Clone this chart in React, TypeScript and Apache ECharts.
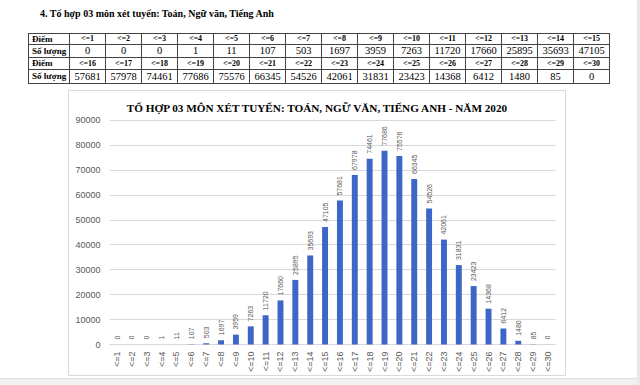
import React, { useEffect, useRef } from "react";
import * as echarts from "echarts";

const heading = "4. Tổ hợp 03 môn xét tuyển: Toán, Ngữ văn, Tiếng Anh";
const chartTitle = "TỔ HỢP 03 MÔN XÉT TUYỂN: TOÁN, NGỮ VĂN, TIẾNG ANH - NĂM 2020";

const categories = [
  "<=1", "<=2", "<=3", "<=4", "<=5", "<=6", "<=7", "<=8", "<=9", "<=10",
  "<=11", "<=12", "<=13", "<=14", "<=15", "<=16", "<=17", "<=18", "<=19", "<=20",
  "<=21", "<=22", "<=23", "<=24", "<=25", "<=26", "<=27", "<=28", "<=29", "<=30",
];

const chartCounts = [
  0, 0, 0, 1, 11, 107, 503, 1697, 3959, 7263,
  11720, 17660, 25895, 35693, 47105, 57681, 67978, 74461, 77686, 75576,
  66345, 54526, 42061, 31831, 23423, 14368, 6412, 1480, 85, 0,
];

const tableScoresRow1 = categories.slice(0, 15);
const tableScoresRow2 = categories.slice(15, 30);
const tableCountsRow1 = [0, 0, 0, 1, 11, 107, 503, 1697, 3959, 7263, 11720, 17660, 25895, 35693, 47105];
const tableCountsRow2 = [57681, 57978, 74461, 77686, 75576, 66345, 54526, 42061, 31831, 23423, 14368, 6412, 1480, 85, 0];

const yMin = 0;
const yMax = 90000;
const yInterval = 10000;

const serif = '"Liberation Serif", "Times New Roman", serif';
const sans = '"Liberation Sans", Arial, sans-serif';

function Chart() {
  const ref = useRef<HTMLDivElement>(null);
  useEffect(() => {
    if (!ref.current) return;
    const chart = echarts.init(ref.current, undefined, { renderer: "svg" });
    chart.setOption({
      animation: false,
      backgroundColor: "#ffffff",
      title: {
        text: chartTitle,
        left: "center",
        top: 7,
        textStyle: { fontFamily: serif, fontWeight: "bold", fontSize: 11.2, color: "#000" },
      },
      graphic: [
        {
          type: "rect",
          shape: { x: 0.5, y: 0.5, width: 497, height: 285 },
          style: { fill: "none", stroke: "#d9d9d9", lineWidth: 1 },
          silent: true,
        },
      ],
      grid: { left: 41.6, right: 10.6, top: 30, bottom: 31.5, containLabel: false },
      xAxis: {
        type: "category",
        data: categories,
        axisTick: { show: false },
        axisLine: { lineStyle: { color: "#d9d9d9" } },
        axisLabel: { rotate: 90, interval: 0, margin: 7, fontSize: 9, color: "#595959", fontFamily: sans },
      },
      yAxis: {
        type: "value",
        min: yMin,
        max: yMax,
        interval: yInterval,
        axisLine: { show: false },
        axisTick: { show: false },
        splitLine: { lineStyle: { color: "#d9d9d9" } },
        axisLabel: {
          fontSize: 9,
          color: "#595959",
          fontFamily: sans,
          margin: 9,
          formatter: (v: number) => String(v),
        },
      },
      series: [
        {
          type: "bar",
          data: chartCounts,
          barWidth: "40%",
          itemStyle: { color: "#3D66C9" },
          label: {
            show: true,
            position: "top",
            rotate: 90,
            align: "left",
            verticalAlign: "middle",
            distance: 5,
            fontSize: 7,
            color: "#595959",
            fontFamily: sans,
          },
        },
      ],
    });
    return () => chart.dispose();
  }, []);
  return <div ref={ref} style={{ position: "absolute", left: 68, top: 90, width: 498, height: 286 }} />;
}

const cellBase: React.CSSProperties = {
  border: "1px solid #444",
  padding: 0,
  textAlign: "center",
  overflow: "hidden",
  whiteSpace: "nowrap",
};

function ScoreRow({ scores, h }: { scores: string[]; h: number }) {
  return (
    <tr style={{ height: h }}>
      <td style={{ ...cellBase, textAlign: "left", paddingLeft: 3, fontWeight: "bold", fontSize: 9, lineHeight: `${h - 1}px` }}>Điểm</td>
      {scores.map((s) => (
        <td key={s} style={{ ...cellBase, fontWeight: "bold", fontSize: 8, lineHeight: `${h - 1}px` }}>{s}</td>
      ))}
    </tr>
  );
}

function CountRow({ counts, h }: { counts: number[]; h: number }) {
  return (
    <tr style={{ height: h }}>
      <td style={{ ...cellBase, textAlign: "left", paddingLeft: 3, fontWeight: "bold", fontSize: 9, lineHeight: `${h - 1}px` }}>Số lượng</td>
      {counts.map((c, i) => (
        <td key={i} style={{ ...cellBase, fontSize: 10.5, lineHeight: `${h - 1}px` }}>{c}</td>
      ))}
    </tr>
  );
}

export default function App() {
  return (
    <div style={{ position: "fixed", left: 0, top: 0, width: 640, height: 385, background: "#fff", overflow: "hidden", fontFamily: serif, color: "#000" }}>
      <div style={{ position: "absolute", left: 40, top: 8, fontSize: 10, fontWeight: "bold", whiteSpace: "nowrap" }}>{heading}</div>
      <table style={{ position: "absolute", left: 28, top: 33, width: 581, borderCollapse: "collapse", tableLayout: "fixed" }}>
        <colgroup>
          <col style={{ width: 41 }} />
          {tableScoresRow1.map((s) => (
            <col key={s} style={{ width: 36 }} />
          ))}
        </colgroup>
        <tbody>
          <ScoreRow scores={tableScoresRow1} h={11} />
          <CountRow counts={tableCountsRow1} h={13} />
          <ScoreRow scores={tableScoresRow2} h={12} />
          <CountRow counts={tableCountsRow2} h={14} />
        </tbody>
      </table>
      <Chart />
      <div style={{ position: "absolute", left: 0, top: 378, width: 640, height: 7, background: "#f0f0f0", borderTop: "1px solid #e0e0e0" }} />
      <div style={{ position: "absolute", left: 637, top: 0, width: 3, height: 385, background: "#e8e8e8" }} />
    </div>
  );
}
